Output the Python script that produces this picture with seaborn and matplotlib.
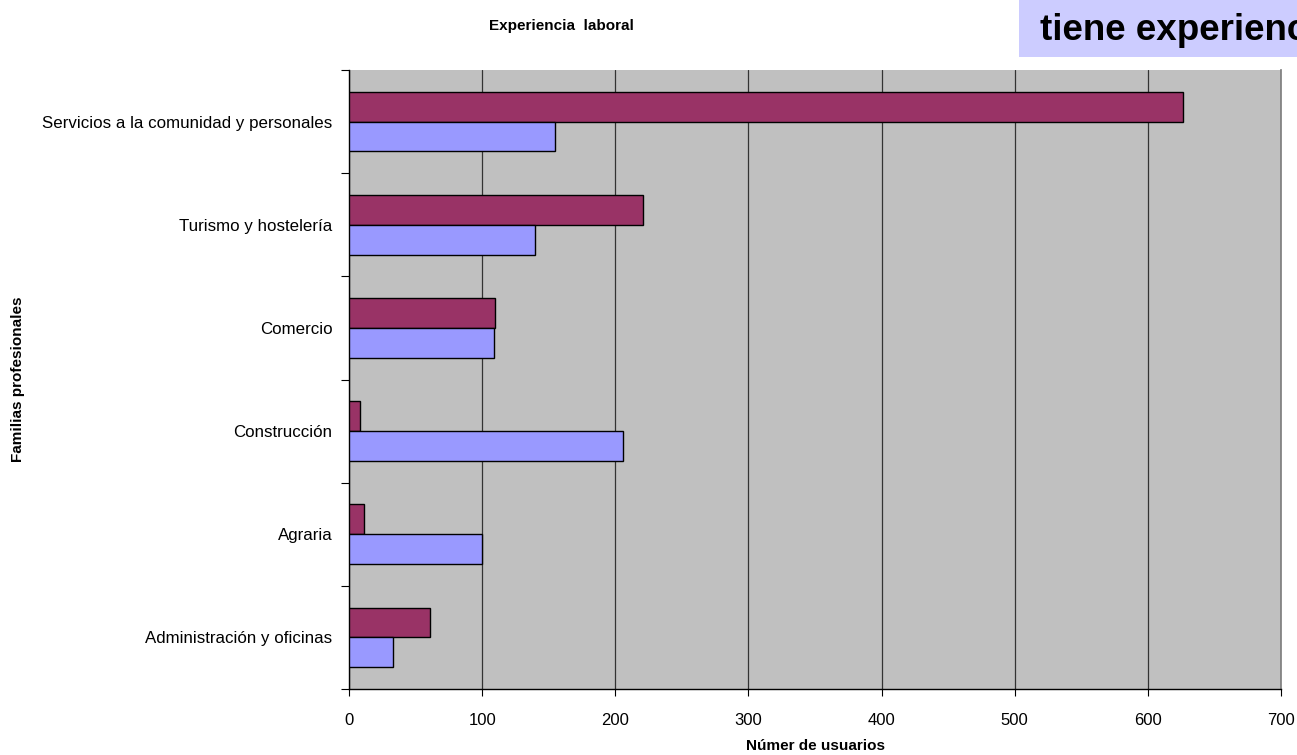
import matplotlib
matplotlib.use("Agg")
import matplotlib.pyplot as plt
import seaborn as sns
import pandas as pd

# data
familias = [
    "Servicios a la comunidad y personales",
    "Turismo y hostelería",
    "Comercio",
    "Construcción",
    "Agraria",
    "Administración y oficinas",
]
serie_a = [626, 221, 110, 8, 11, 61]
serie_b = [155, 140, 109, 206, 100, 33]
series = ["Sí", "No"]
xticks = [0, 100, 200, 300, 400, 500, 600, 700]

df = pd.DataFrame({
    "familia": familias * 2,
    "usuarios": serie_a + serie_b,
    "serie": [series[0]] * len(familias) + [series[1]] * len(familias),
})

sns.set_theme(style="white")
plt.rcParams["font.family"] = ["Liberation Sans", "DejaVu Sans"]
plt.rcParams["text.color"] = "black"
plt.rcParams["axes.labelcolor"] = "black"
plt.rcParams["xtick.color"] = "black"
plt.rcParams["ytick.color"] = "black"

fig = plt.figure(figsize=(12.97, 7.55), dpi=100)
ax = fig.add_axes([0.2691, 0.0874, 0.9877 - 0.2691, 0.9073 - 0.0874])
ax.set_facecolor("#C0C0C0")

sns.barplot(data=df, y="familia", x="usuarios", hue="serie", order=familias,
            hue_order=series, palette=["#993366", "#9999FF"], saturation=1,
            orient="h", width=0.58, edgecolor="black", linewidth=1.0,
            legend=False, ax=ax, zorder=3)

ax.set_xlim(0, 700)
ax.set_ylim(len(familias) - 0.5, -0.5)
ax.set_xticks(xticks)
ax.set_xticklabels([str(t) for t in xticks], fontsize=12)
ax.xaxis.grid(True, color="#333333", linewidth=0.9, zorder=0)
ax.set_axisbelow(True)

ax.set_yticks(range(len(familias)))
ax.set_yticklabels(familias, fontsize=12.2)
ax.set_yticks([i - 0.5 for i in range(len(familias) + 1)], minor=True)
ax.tick_params(axis="y", which="major", length=0, pad=12)
ax.tick_params(axis="y", which="minor", length=6, width=0.8, color="black", left=True)
ax.tick_params(axis="x", which="major", length=5, width=0.8, color="black", bottom=True, pad=12)

ax.spines["top"].set_visible(False)
ax.spines["right"].set_color("#808080")
ax.spines["left"].set_color("black")
ax.spines["bottom"].set_color("black")
for s in ["left", "bottom"]:
    ax.spines[s].set_linewidth(1.0)

ax.set_xlabel("Númer de usuarios", fontsize=11, fontweight="bold")
ax.set_ylabel("Familias profesionales", fontsize=11, fontweight="bold")
ax.yaxis.set_label_coords((18 - 349) / 932, 0.5)
ax.xaxis.set_label_coords(0.5, (689 - 746) / 619)
ax.xaxis.label.set_va("center")
ax.yaxis.label.set_va("center")

fig.text(561 / 1297, 1 - 26 / 755, "Experiencia  laboral", ha="center", va="center",
         fontsize=11, fontweight="bold")

# header box partially cut off at the top right, as in the reference
fig.patches.append(plt.Rectangle((1019 / 1297, 1 - 57 / 755), 1 - 1019 / 1297, 57 / 755,
                                 transform=fig.transFigure, facecolor="#CCCCFF",
                                 edgecolor="none", zorder=0))
fig.text(1040 / 1297, 1 - 31 / 755, "tiene experiencia", ha="left", va="center",
         fontsize=26.5, fontweight="bold")

fig.savefig("out.png", dpi=100)
